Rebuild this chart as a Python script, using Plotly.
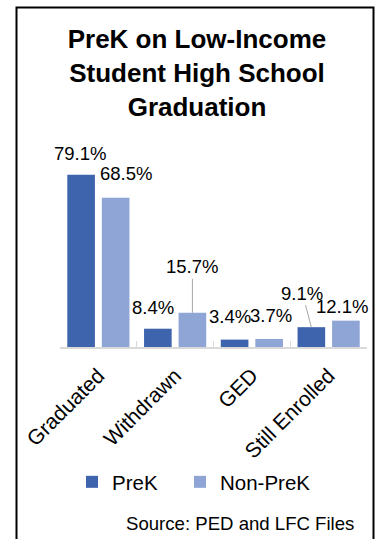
import plotly.graph_objects as go

# ---- data ----
categories = ["Graduated", "Withdrawn", "GED", "Still Enrolled"]
prek = [79.1, 8.4, 3.4, 9.1]
nonprek = [68.5, 15.7, 3.7, 12.1]
series_names = ["PreK", "Non-PreK"]
title_lines = ["PreK on Low-Income", "Student High School", "Graduation"]
source_text = "Source: PED and LFC Files"

# data-label placement (px offset of label centre from bar-top centre, leader line?)
label_off_prek = [(-1, -21, False), (-5, -21, False), (-5, -23, False), (-9, -34, True)]
label_off_non = [(10, -24, False), (0, -46, True), (2, -23, False), (-4, -14, False)]

# ---- layout geometry ----
W, H = 381, 539
L, R, T, B = 60, 14, 151, 192
PW = W - L - R
PH = H - T - B
BARGAP, GROUPGAP = 0.1, 0.2
slot = PW / len(categories) * (1 - BARGAP) / 2
FONT = "Arial, Liberation Sans, sans-serif"
C_PREK = "#3E64AD"
C_NON = "#8FA5D5"


def px_x(p):
    return (p - L) / PW


def px_y(p):
    return (H - B - p) / PH


fig = go.Figure()
fig.add_trace(go.Bar(name=series_names[0], x=categories, y=prek, legend="legend",
                     marker=dict(color=C_PREK, line=dict(width=0))))
fig.add_trace(go.Bar(name=series_names[1], x=categories, y=nonprek, legend="legend2",
                     marker=dict(color=C_NON, line=dict(width=0))))

annotations = []
for vals, offs, side in ((prek, label_off_prek, -1), (nonprek, label_off_non, 1)):
    for cat, v, (dx, dy, leader) in zip(categories, vals, offs):
        txt = f"{v:.1f}%"
        if leader:
            annotations.append(dict(
                x=cat, y=v, xref="x", yref="y", text=txt,
                xshift=side * slot / 2, showarrow=True, arrowhead=0,
                arrowwidth=1, arrowcolor="#A6A6A6", standoff=0,
                ax=dx, ay=dy, font=dict(size=18.5, color="#000", family=FONT)))
        else:
            annotations.append(dict(
                x=cat, y=v, xref="x", yref="y", text=txt,
                xshift=side * slot / 2 + dx, yshift=-dy, showarrow=False,
                xanchor="center", yanchor="middle",
                font=dict(size=18.5, color="#000", family=FONT)))

annotations.append(dict(
    x=px_x(356), y=px_y(523), xref="paper", yref="paper", text=source_text,
    showarrow=False, xanchor="right", yanchor="middle",
    font=dict(size=18.6, color="#000", family=FONT)))

legend_common = dict(orientation="h", xref="container", yref="container",
                     xanchor="left", y=1 - 482 / H, yanchor="middle",
                     font=dict(size=20.5, color="#000", family=FONT),
                     bgcolor="rgba(0,0,0,0)")

fig.update_layout(
    width=W, height=H,
    margin=dict(l=L, r=R, t=T, b=B, autoexpand=False),
    paper_bgcolor="white", plot_bgcolor="white",
    font=dict(family=FONT, color="#000"),
    barmode="group", bargap=BARGAP, bargroupgap=GROUPGAP,
    title=dict(text="<b>" + "<br>".join(title_lines) + "</b>",
               x=197 / W, xanchor="center", xref="container",
               y=1 - 48 / H, yanchor="top", yref="container",
               font=dict(size=26, color="#000", family=FONT)),
    xaxis=dict(range=[-0.5, len(categories) - 0.5], autorange=False,
               showline=True, linecolor="#D9D9D9", linewidth=2,
               ticks="inside", ticklen=6, tickcolor="#D9D9D9", tickwidth=1,
               tickson="boundaries", tickangle=-45, ticklabelstandoff=6,
               tickfont=dict(size=21, color="#000", family=FONT),
               showgrid=False, zeroline=False, fixedrange=True),
    yaxis=dict(range=[0, 90], autorange=False, visible=False,
               showgrid=False, zeroline=False),
    showlegend=True,
    legend=dict(x=72 / W, **legend_common),
    legend2=dict(x=180 / W, **legend_common),
    annotations=annotations,
    shapes=[dict(type="rect", xref="paper", yref="paper",
                 x0=px_x(16.5), x1=px_x(373.5), y0=px_y(545), y1=px_y(7.5),
                 line=dict(color="#000", width=2), fillcolor="rgba(0,0,0,0)",
                 layer="above")],
)

fig.write_html("out.html")
